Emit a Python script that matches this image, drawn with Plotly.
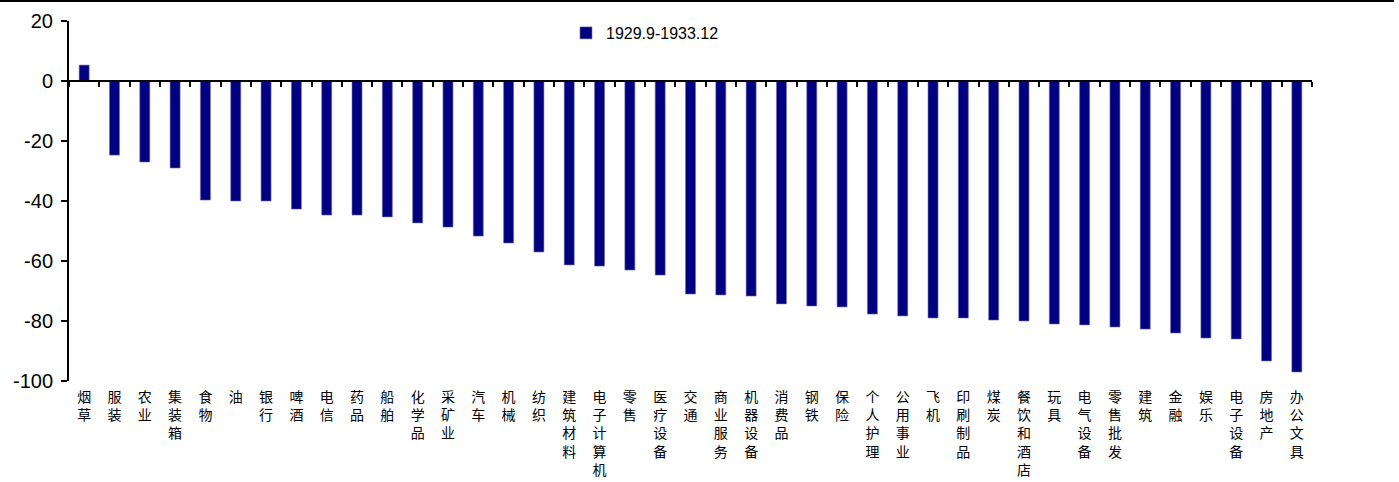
import plotly.graph_objects as go

categories = ["烟草", "服装", "农业", "集装箱", "食物", "油", "银行", "啤酒", "电信", "药品",
              "船舶", "化学品", "采矿业", "汽车", "机械", "纺织", "建筑材料", "电子计算机", "零售", "医疗设备",
              "交通", "商业服务", "机器设备", "消费品", "钢铁", "保险", "个人护理", "公用事业", "飞机", "印刷制品",
              "煤炭", "餐饮和酒店", "玩具", "电气设备", "零售批发", "建筑", "金融", "娱乐", "电子设备", "房地产",
              "办公文具"]
values = [5.3, -24.7, -27.0, -29.0, -39.7, -40.0, -40.0, -42.7, -44.7, -44.7,
          -45.3, -47.3, -48.7, -51.7, -54.0, -57.0, -61.3, -61.7, -63.0, -64.7,
          -71.0, -71.3, -71.7, -74.3, -75.0, -75.3, -77.7, -78.3, -79.0, -79.0,
          -79.7, -80.0, -81.0, -81.3, -82.0, -82.7, -84.0, -85.7, -86.0, -93.3,
          -97.0]
series_name = "1929.9-1933.12"
y_ticks = [20, 0, -20, -40, -60, -80, -100]

W, H = 1399, 482
L, R, T, B = 69, 87, 21, 101
PW, PH = W - L - R, H - T - B
ymin, ymax = -100, 20
n = len(categories)

fig = go.Figure()
fig.add_trace(go.Bar(
    x=categories, y=values, name=series_name,
    marker=dict(color="#000080", line=dict(color="#6f6fb0", width=0.6)),
    xaxis="x", yaxis="y",
))
# helper trace on the zero-line axis (invisible)
fig.add_trace(go.Scatter(
    x=categories, y=values, mode="markers", marker=dict(opacity=0),
    showlegend=False, hoverinfo="skip", xaxis="x2", yaxis="y",
))

vertical_labels = ["<br>".join(list(c)) for c in categories]

fig.update_layout(
    width=W, height=H,
    margin=dict(l=L, r=R, t=T, b=B, pad=0, autoexpand=False),
    paper_bgcolor="white", plot_bgcolor="white",
    bargap=0.67,
    font=dict(family="Liberation Sans, Arial, sans-serif", color="black"),
    showlegend=True,
    legend=dict(x=(566 - L) / PW, y=(H - B - 33) / PH, xanchor="left", yanchor="middle",
                xref="paper", yref="paper",
                font=dict(size=16, family="Liberation Sans, Arial, sans-serif"),
                bgcolor="rgba(0,0,0,0)", itemwidth=30),
    xaxis=dict(
        type="category", categoryorder="array", categoryarray=categories,
        range=[-0.5, n - 0.5], automargin=False,
        tickvals=categories, ticktext=vertical_labels,
        showline=False, ticks="", showgrid=False, zeroline=False,
        tickfont=dict(size=14, family="Noto Sans CJK SC", color="black"),
        tickangle=0, ticklabelstandoff=6,
    ),
    xaxis2=dict(
        type="category", categoryorder="array", categoryarray=categories,
        range=[-0.5, n - 0.5], automargin=False,
        overlaying="x", anchor="free",
        position=(0 - ymin) / (ymax - ymin),
        showline=True, linecolor="black", linewidth=2,
        ticks="outside", tickson="boundaries", ticklen=5, tickwidth=1.5, tickcolor="black",
        showticklabels=False, showgrid=False, zeroline=False,
    ),
    yaxis=dict(
        range=[ymin, ymax], tickvals=y_ticks, ticktext=[str(v) for v in y_ticks],
        automargin=False,
        showline=True, linecolor="black", linewidth=2,
        ticks="outside", ticklen=6, tickwidth=1.5, tickcolor="black",
        showgrid=False, zeroline=False,
        tickfont=dict(size=20, family="Liberation Sans, Arial, sans-serif", color="black"),
        ticklabelstandoff=4,
    ),
)

# top border rule of the image
fig.add_shape(type="line", xref="paper", yref="paper",
              x0=(0 - L) / PW, x1=(1394 - L) / PW,
              y0=(H - 1 - B) / PH, y1=(H - 1 - B) / PH,
              line=dict(color="black", width=2))

fig.write_html("out.html")
